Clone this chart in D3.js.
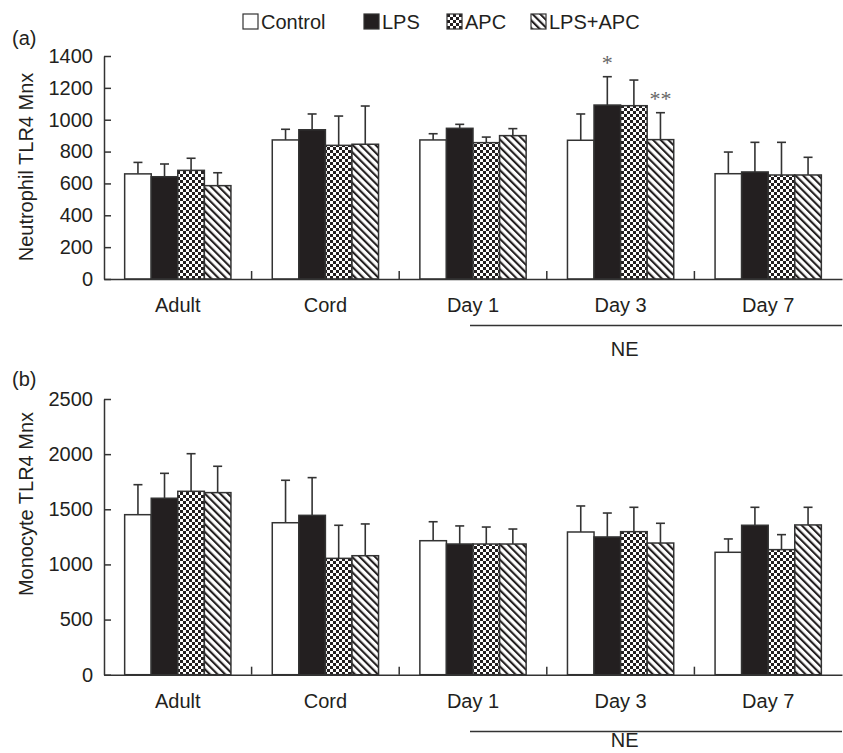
<!DOCTYPE html>
<html>
<head>
<meta charset="utf-8">
<script src="https://cdn.jsdelivr.net/npm/d3@7"></script>
<style>
  body { margin: 0; background: #fff; }
  text { font-family: "Liberation Sans", Arial, Helvetica, sans-serif; fill: #231f20; }
</style>
</head>
<body>
<div id="chart"></div>
<script>
// groups and series
var groups = ["Adult", "Cord", "Day 1", "Day 3", "Day 7"];
var series = ["Control", "LPS", "APC", "LPS+APC"];

// (a) neutrophil TLR4 Mnx, mean and SD per series (order = groups)
var neuControl = [660, 873, 873, 871, 661];
var neuLPS     = [642, 937, 946, 1092, 672];
var neuAPC     = [682, 839, 856, 1088, 653];
var neuLPSAPC  = [586, 846, 900, 875, 653];
var neuControlSD = [72, 67, 39, 165, 136];
var neuLPSSD     = [80, 99, 25, 178, 186];
var neuAPCSD     = [76, 184, 35, 161, 205];
var neuLPSAPCSD  = [81, 240, 44, 169, 111];
var neuTicks = [0, 200, 400, 600, 800, 1000, 1200, 1400];

// (b) monocyte TLR4 Mnx
var monControl = [1451, 1378, 1215, 1294, 1110];
var monLPS     = [1600, 1445, 1185, 1249, 1355];
var monAPC     = [1663, 1055, 1185, 1297, 1134];
var monLPSAPC  = [1651, 1079, 1185, 1194, 1358];
var monControlSD = [272, 385, 172, 236, 121];
var monLPSSD     = [226, 342, 164, 217, 163];
var monAPCSD     = [341, 300, 154, 221, 136];
var monLPSAPCSD  = [239, 288, 136, 179, 160];
var monTicks = [0, 500, 1000, 1500, 2000, 2500];

// significance marks in panel (a)
var neuStars = [{group: "Day 3", series: "LPS", text: "*"},
                {group: "Day 3", series: "LPS+APC", text: "**"}];

var W = 843, H = 753;
var ink = "#231f20", edge = "#333";

var svg = d3.select("#chart").append("svg")
    .attr("width", W)
    .attr("height", H);

// fill patterns
var defs = svg.append("defs");
var chk = defs.append("pattern")
    .attr("id", "checker")
    .attr("patternUnits", "userSpaceOnUse")
    .attr("width", 6).attr("height", 6);
chk.append("rect").attr("width", 6).attr("height", 6).attr("fill", "#fff");
chk.append("rect").attr("width", 3).attr("height", 3).attr("fill", ink);
chk.append("rect").attr("x", 3).attr("y", 3).attr("width", 3).attr("height", 3).attr("fill", ink);

var hatch = defs.append("pattern")
    .attr("id", "hatch")
    .attr("patternUnits", "userSpaceOnUse")
    .attr("width", 5.4).attr("height", 5.4)
    .attr("patternTransform", "rotate(-45)");
hatch.append("rect").attr("width", 5.4).attr("height", 5.4).attr("fill", "#fff");
hatch.append("rect").attr("x", 0).attr("y", 0).attr("width", 2.1).attr("height", 5.4)
    .attr("fill", ink);

var fills = {"Control": "#fff", "LPS": ink, "APC": "url(#checker)", "LPS+APC": "url(#hatch)"};

// shared x scales
var x0 = d3.scaleBand().domain(groups).range([104, 842]);
var bw = x0.bandwidth();
var x1 = d3.scaleBand().domain(series).range([bw * 0.14, bw * 0.86]);

function drawPanel(cfg) {
  var y = d3.scaleLinear().domain([0, cfg.max]).range([cfg.bottom, cfg.top]);

  var rows = [];
  groups.forEach(function(g, i) {
    series.forEach(function(s, j) {
      rows.push({group: g, series: s, mean: cfg.means[j][i], sd: cfg.sds[j][i]});
    });
  });

  var g = svg.append("g");

  // y axis, ticks pointing inward
  g.append("g")
    .attr("transform", "translate(104,0)")
    .call(d3.axisLeft(y).tickValues(cfg.ticks).tickFormat(d3.format("d"))
      .tickSize(-7).tickSizeOuter(0).tickPadding(11))
    .call(function(a) {
      a.selectAll("path, line").attr("stroke", edge).attr("stroke-width", 1.5);
      a.selectAll("text").style("font-size", "20px").attr("fill", ink)
        .style("font-family", "'Liberation Sans', Arial, sans-serif");
    });

  // error bars (upper only)
  var eb = g.append("g").attr("stroke", edge).attr("stroke-width", 1.6);
  eb.selectAll("line.v").data(rows).enter().append("line")
    .attr("x1", function(d) { return x0(d.group) + x1(d.series) + x1.bandwidth() / 2; })
    .attr("x2", function(d) { return x0(d.group) + x1(d.series) + x1.bandwidth() / 2; })
    .attr("y1", function(d) { return y(d.mean); })
    .attr("y2", function(d) { return y(d.mean + d.sd); });
  eb.selectAll("line.c").data(rows).enter().append("line")
    .attr("x1", function(d) { return x0(d.group) + x1(d.series) + x1.bandwidth() / 2 - 4.5; })
    .attr("x2", function(d) { return x0(d.group) + x1(d.series) + x1.bandwidth() / 2 + 4.5; })
    .attr("y1", function(d) { return y(d.mean + d.sd); })
    .attr("y2", function(d) { return y(d.mean + d.sd); });

  // bars
  g.append("g").selectAll("rect").data(rows).enter().append("rect")
    .attr("x", function(d) { return x0(d.group) + x1(d.series); })
    .attr("y", function(d) { return y(d.mean); })
    .attr("width", x1.bandwidth())
    .attr("height", function(d) { return y(0) - y(d.mean); })
    .attr("fill", function(d) { return fills[d.series]; })
    .attr("stroke", edge)
    .attr("stroke-width", 1.5);

  // x axis baseline with group labels
  g.append("g")
    .attr("transform", "translate(0," + y(0) + ")")
    .call(d3.axisBottom(x0).tickSize(0).tickPadding(19))
    .call(function(a) {
      a.select(".domain").attr("stroke", edge).attr("stroke-width", 1.5);
      a.selectAll("text").style("font-size", "20px").attr("fill", ink)
        .style("font-family", "'Liberation Sans', Arial, sans-serif");
    });

  // small upward ticks between groups
  g.append("g").selectAll("line").data(groups.slice(1)).enter().append("line")
    .attr("x1", function(d) { return x0(d); })
    .attr("x2", function(d) { return x0(d); })
    .attr("y1", y(0))
    .attr("y2", y(0) - 8)
    .attr("stroke", edge).attr("stroke-width", 1.5);

  // NE bracket
  g.append("line")
    .attr("x1", x0("Day 1") + bw / 2 - 3)
    .attr("x2", 842)
    .attr("y1", cfg.neLine).attr("y2", cfg.neLine)
    .attr("stroke", edge).attr("stroke-width", 1.5);
  g.append("text")
    .attr("x", x0("Day 3") + bw / 2 + 4)
    .attr("y", cfg.neLine + cfg.neGap)
    .attr("text-anchor", "middle")
    .style("font-size", "20px")
    .text("NE");

  // y label
  g.append("text")
    .attr("transform", "translate(33," + cfg.labelY + ") rotate(-90)")
    .attr("text-anchor", "middle")
    .style("font-size", "20px")
    .text(cfg.label);

  // panel letter
  g.append("text")
    .attr("x", 12).attr("y", cfg.letterY)
    .style("font-size", "20px")
    .text(cfg.letter);

  // asterisks
  g.append("g").selectAll("text").data(cfg.stars).enter().append("text")
    .attr("x", function(d) { return x0(d.group) + x1(d.series) + x1.bandwidth() / 2; })
    .attr("y", function(d) {
      var r = rows.filter(function(q) { return q.group === d.group && q.series === d.series; })[0];
      return y(r.mean + r.sd) - 7;
    })
    .attr("text-anchor", "middle")
    .style("font-family", "'Liberation Serif', 'Times New Roman', serif")
    .style("font-size", "22px")
    .style("fill", "#666")
    .text(function(d) { return d.text; });
}

drawPanel({
  max: 1400, top: 56, bottom: 279, ticks: neuTicks,
  means: [neuControl, neuLPS, neuAPC, neuLPSAPC],
  sds: [neuControlSD, neuLPSSD, neuAPCSD, neuLPSAPCSD],
  neLine: 325.5, neGap: 30, label: "Neutrophil TLR4 Mnx", labelY: 167,
  letter: "(a)", letterY: 45, stars: neuStars
});

drawPanel({
  max: 2500, top: 399, bottom: 674.7, ticks: monTicks,
  means: [monControl, monLPS, monAPC, monLPSAPC],
  sds: [monControlSD, monLPSSD, monAPCSD, monLPSAPCSD],
  neLine: 731.5, neGap: 15.5, label: "Monocyte TLR4 Mnx", labelY: 504,
  letter: "(b)", letterY: 386, stars: []
});

// legend
var legendX = [243, 364, 447, 531];
var lg = svg.append("g").selectAll("g").data(series).enter().append("g")
    .attr("transform", function(d, i) { return "translate(" + legendX[i] + ",14)"; });
lg.append("rect")
    .attr("width", 15).attr("height", 15)
    .attr("fill", function(d) { return fills[d]; })
    .attr("stroke", edge).attr("stroke-width", 1.2);
lg.append("text")
    .attr("x", 18).attr("y", 15)
    .style("font-size", "20px")
    .text(function(d) { return d; });
</script>
</body>
</html>
